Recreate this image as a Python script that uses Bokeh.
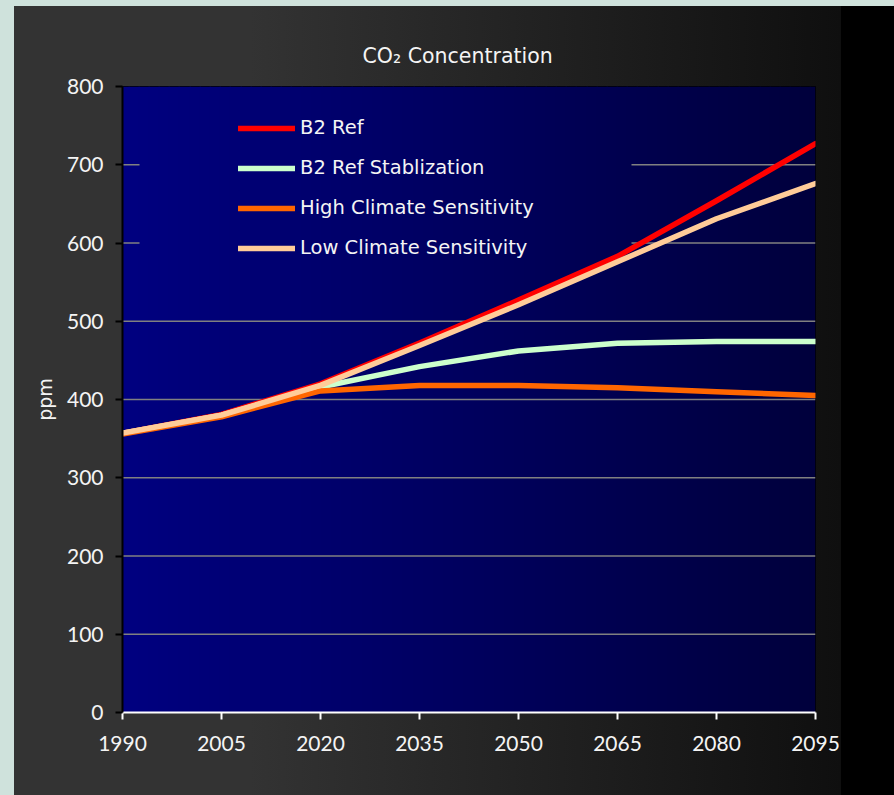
import numpy as np
from bokeh.plotting import figure
from bokeh.models import FixedTicker, Legend, LegendItem
from bokeh.embed import file_html
from bokeh.resources import INLINE

# CO2 concentration scenarios (ppm)
years = [1990, 2005, 2020, 2035, 2050, 2065, 2080, 2095]
b2_ref = [357, 381, 420, 472, 527, 583, 654, 727]
b2_ref_stab = [357, 380, 416, 442, 462, 472, 474, 474]
high_sens = [356, 378, 411, 418, 418, 415, 410, 405]
low_sens = [357, 380, 418, 469, 521, 576, 631, 676]
y_ticks = [0, 100, 200, 300, 400, 500, 600, 700, 800]

series = [
    ("B2 Ref", b2_ref, "#ff0000"),
    ("B2 Ref Stablization", b2_ref_stab, "#ccffcc"),
    ("High Climate Sensitivity", high_sens, "#ff6600"),
    ("Low Climate Sensitivity", low_sens, "#ffcc99"),
]

X0, X1 = years[0], years[-1]
Y0, Y1 = y_ticks[0], y_ticks[-1]

p = figure(
    width=894, height=795,
    x_range=(X0, X1), y_range=(Y0, Y1),
    output_backend="svg", toolbar_location=None,
    min_border_left=122, min_border_right=79,
    min_border_top=86, min_border_bottom=83,
    title="CO\u2082 Concentration",
)

# page backdrop: pale frame with a dark panel fading to black
p.styles = {
    "background": (
        "linear-gradient(to right, #333333 0px, #333333 236px, #0f0f0f 827px, "
        "#000000 827px, #000000 100%) 14px 6px / 880px 789px no-repeat, #cfe2dc"
    )
}
p.border_fill_alpha = 0
p.background_fill_alpha = 0
p.outline_line_color = "black"
p.outline_line_width = 1

# navy-to-black ramp, built as vertical bands of constant colour
NCOLS = 693
step = (X1 - X0) / NCOLS
blue = np.round(128 - 68 * np.arange(NCOLS) / (NCOLS - 1)).astype(int)

lefts, rights, cols = [], [], []
a = 0
while a < NCOLS:
    b = a
    while b < NCOLS and blue[b] == blue[a]:
        b += 1
    lefts.append(X0 + a * step)
    # slight overlap so neighbouring bands leave no seam
    rights.append(X0 + min(b + 1.5, NCOLS) * step)
    cols.append("#0000%02x" % blue[a])
    a = b
p.quad(left=lefts, right=rights, bottom=Y0, top=Y1, fill_color=cols,
       line_color=None, level="image")

# horizontal grid; the two top lines stop short where the key sits
key_x0 = X0 + 17 * step
key_x1 = X0 + 509 * step
key_bottom = 560
gx0, gx1, gy = [], [], []
for yv in y_ticks[1:-1]:
    if yv > key_bottom:
        gx0 += [X0, key_x1]
        gx1 += [key_x0, X1]
        gy += [yv, yv]
    else:
        gx0.append(X0)
        gx1.append(X1)
        gy.append(yv)
p.segment(x0=gx0, y0=gy, x1=gx1, y1=gy, line_color="#808080",
          line_width=1.5, level="underlay")

renderers = []
for name, vals, col in series:
    rr = p.line(years, vals, line_color=col, line_width=5.5,
                line_cap="round", line_join="round")
    renderers.append((name, rr))

legend = Legend(
    items=[LegendItem(label=n, renderers=[rr]) for n, rr in renderers],
    location=(116, 453),
    padding=0, margin=0, spacing=17,
    glyph_width=57, glyph_height=20, label_height=20, label_standoff=5,
    background_fill_alpha=0, border_line_alpha=0,
    label_text_font="DejaVu Sans", label_text_font_size="19.5px",
    label_text_color="#f4f4f4", label_text_baseline="middle",
)
p.add_layout(legend)

# title
p.title.text_font = "DejaVu Sans"
p.title.text_font_size = "20.5px"
p.title.text_font_style = "normal"
p.title.text_color = "#f4f4f4"
p.title.align = "left"
p.title.offset = 240
p.title.standoff = 38

# x axis
xa = p.xaxis[0]
xa.ticker = FixedTicker(ticks=years)
xa.axis_line_color = "white"
xa.axis_line_width = 2
xa.major_tick_line_color = "white"
xa.major_tick_line_width = 2
xa.major_tick_out = 7
xa.major_tick_in = 0
xa.minor_tick_line_color = None
xa.major_label_text_font = "Lato"
xa.major_label_text_font_size = "21px"
xa.major_label_text_color = "#f4f4f4"
xa.major_label_standoff = 16

# y axis
ya = p.yaxis[0]
ya.ticker = FixedTicker(ticks=y_ticks)
ya.axis_line_color = "black"
ya.axis_line_width = 2
ya.major_tick_line_color = "black"
ya.major_tick_line_width = 2
ya.major_tick_out = 7
ya.major_tick_in = 0
ya.minor_tick_line_color = None
ya.major_label_text_font = "Lato"
ya.major_label_text_font_size = "21px"
ya.major_label_text_color = "#f4f4f4"
ya.major_label_standoff = 12
ya.axis_label = "ppm"
ya.axis_label_text_font = "DejaVu Sans"
ya.axis_label_text_font_size = "19px"
ya.axis_label_text_font_style = "normal"
ya.axis_label_text_color = "#f4f4f4"
ya.axis_label_standoff = 8

p.xgrid.grid_line_color = None
p.ygrid.grid_line_color = None

open("out.html", "w").write(file_html(p, INLINE))
